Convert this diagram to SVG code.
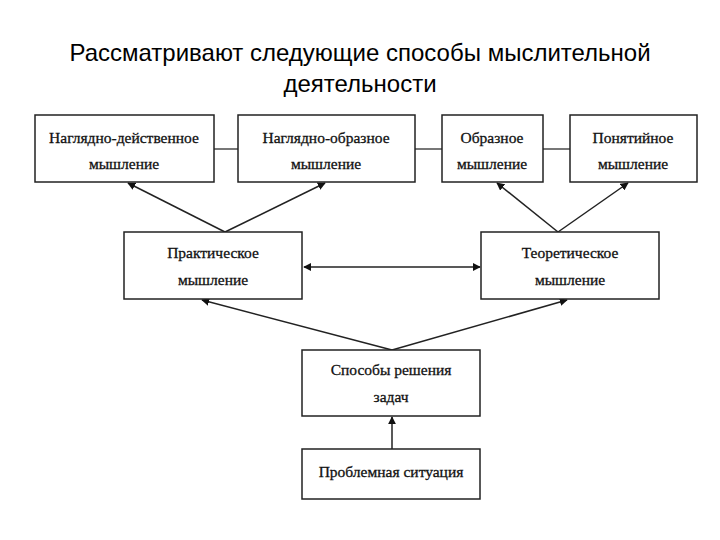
<svg xmlns="http://www.w3.org/2000/svg" width="720" height="540" viewBox="0 0 720 540">
<style>
.title{font-family:"Liberation Sans",Arial,sans-serif;font-size:24px;fill:#000;text-anchor:middle}
.box{fill:#fff;stroke:#222;stroke-width:1.5}
.t{font-family:"Liberation Serif","Times New Roman",serif;font-size:15.5px;fill:#111;stroke:#111;stroke-width:0.3;text-anchor:middle}
.c{stroke:#222;stroke-width:1.5;fill:none}
.g{stroke:#777;stroke-width:2;fill:none}
</style>
<defs>
<marker id="ah" viewBox="0 0 10 10" refX="9" refY="5" markerWidth="8" markerHeight="8" markerUnits="userSpaceOnUse" orient="auto-start-reverse"><path d="M0,0 L10,5 L0,10 z" fill="#111"/></marker>
</defs>
<rect width="720" height="540" fill="#fff"/>
<text class="title" x="360" y="61">Рассматривают следующие способы мыслительной</text>
<text class="title" x="360" y="92">деятельности</text>
<g id="connectors">
<line class="g" x1="214" y1="149" x2="238" y2="149"/>
<line class="g" x1="415" y1="149" x2="442" y2="149"/>
<line class="g" x1="543" y1="149" x2="570" y2="149"/>
<line class="c" x1="225" y1="232" x2="128" y2="183" marker-end="url(#ah)"/>
<line class="c" x1="225" y1="232" x2="325" y2="183" marker-end="url(#ah)"/>
<line class="c" x1="558" y1="232" x2="497" y2="183" marker-end="url(#ah)"/>
<line class="c" x1="558" y1="232" x2="628" y2="183" marker-end="url(#ah)"/>
<line class="c" x1="304" y1="267" x2="480" y2="267" marker-start="url(#ah)" marker-end="url(#ah)"/>
<line class="c" x1="392" y1="350" x2="202" y2="300" marker-end="url(#ah)"/>
<line class="c" x1="392" y1="350" x2="567" y2="300" marker-end="url(#ah)"/>
<line class="c" x1="392" y1="449" x2="392" y2="417" marker-end="url(#ah)"/>
</g>
<g id="n1"><rect class="box" x="35" y="115" width="179" height="67"/><text class="t" x="124" y="143">Наглядно-действенное</text><text class="t" x="124" y="169">мышление</text></g>
<g id="n2"><rect class="box" x="238" y="115" width="177" height="67"/><text class="t" x="326" y="143">Наглядно-образное</text><text class="t" x="326" y="169">мышление</text></g>
<g id="n3"><rect class="box" x="442" y="115" width="101" height="67"/><text class="t" x="492" y="143">Образное</text><text class="t" x="492" y="169">мышление</text></g>
<g id="n4"><rect class="box" x="570" y="115" width="127" height="67"/><text class="t" x="633" y="143">Понятийное</text><text class="t" x="633" y="169">мышление</text></g>
<g id="n5"><rect class="box" x="124" y="232" width="178" height="67"/><text class="t" x="213" y="258">Практическое</text><text class="t" x="213" y="285">мышление</text></g>
<g id="n6"><rect class="box" x="481" y="232" width="178" height="67"/><text class="t" x="570" y="258">Теоретическое</text><text class="t" x="570" y="285">мышление</text></g>
<g id="n7"><rect class="box" x="302" y="350" width="178" height="66"/><text class="t" x="391" y="375">Способы решения</text><text class="t" x="391" y="402">задач</text></g>
<g id="n8"><rect class="box" x="302" y="449" width="178" height="50"/><text class="t" x="391" y="477">Проблемная ситуация</text></g>
</svg>
